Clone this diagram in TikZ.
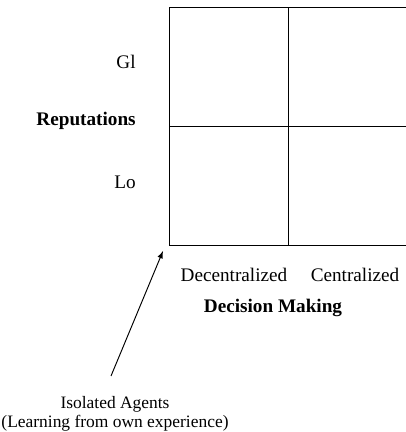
\documentclass[tikz,border=0pt]{standalone}
\usepackage{fontspec}
\setmainfont{Liberation Serif}
\usetikzlibrary{arrows}
\begin{document}
\begin{tikzpicture}[x=0.625pt,y=0.625pt]

        \useasboundingbox (0,0) rectangle (405,432);

        \begin{scope}[line width=0.6pt]
          \draw (169,187) rectangle (407,425);
          \draw (288,187) -- (288,425);
          \draw (169,306) -- (407,306);
        \end{scope}

        \begin{scope}[every node/.style={font=\fontsize{12}{14}\selectfont, inner sep=0pt}]
          \node[anchor=east] (gl)  at (136,370) {Gl};
          \node[anchor=east] (rep) at (136,311) {\bfseries Reputations};
          \node[anchor=east] (lo)  at (136,250) {Lo};
          \node (dec)  at (234,157) {Decentralized};
          \node (cen)  at (355,157) {Centralized};
          \node (dm)   at (273,124) {\bfseries Decision Making};
          \node[align=center, font=\fontsize{10.9}{12}\selectfont] (iso) at (115,18)
            {Isolated Agents\\(Learning from own experience)};
        \end{scope}

        \coordinate (tail)   at (111,56);
        \coordinate (corner) at (163,181);
        \draw[line width=0.6pt, -latex] (tail) -- (corner);

      \end{tikzpicture}
\end{document}
